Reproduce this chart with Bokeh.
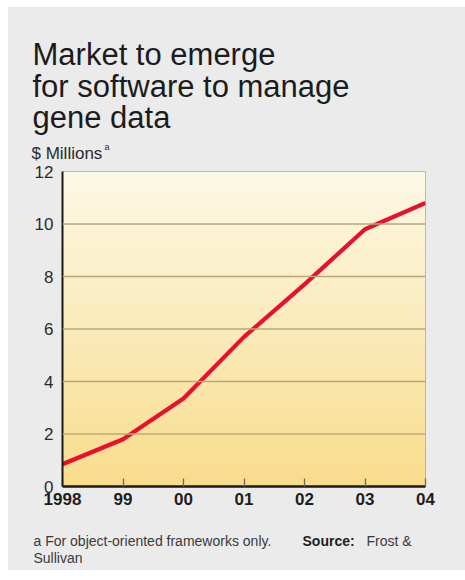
import numpy as np
from bokeh.plotting import figure
from bokeh.layouts import column
from bokeh.models import Range1d, FixedTicker, Label, Span
from bokeh.embed import file_html
from bokeh.resources import INLINE

# Market size, $ millions, for object-oriented frameworks
years = [1998, 1999, 2000, 2001, 2002, 2003, 2004]
market = [0.85, 1.8, 3.35, 5.7, 7.7, 9.8, 10.8]
year_labels = {1998: "1998", 1999: "99", 2000: "00", 2001: "01",
               2002: "02", 2003: "03", 2004: "04"}
y_ticks = [0, 2, 4, 6, 8, 10, 12]

headline = ["Market to emerge", "for software to manage", "gene data"]
unit_label = "$ Millions"
footnote = ["a For object-oriented frameworks only.", "Source:", "Frost &", "Sullivan"]

FONT = "Liberation Sans"
PANEL = "#ebebeb"
W = 457


def text_panel(height):
    # a plain strip whose frame fills the whole canvas, used for free text
    f = figure(width=W, height=height, output_backend="svg", toolbar_location=None,
               x_axis_location=None, y_axis_location=None,
               x_range=Range1d(0, W), y_range=Range1d(0, height),
               min_border=0, min_border_left=0, min_border_right=0,
               min_border_top=0, min_border_bottom=0, frame_align=False,
               background_fill_color=PANEL, border_fill_color=PANEL,
               outline_line_color=None)
    f.grid.visible = False
    return f


def note(f, x, y, text, size, color="#2a2a2a", style="normal"):
    f.add_layout(Label(x=x, y=y, x_units="screen", y_units="screen", text=text,
                       text_font=FONT, text_font_size=size, text_font_style=style,
                       text_color=color, text_baseline="alphabetic"))


# ---- header: headline and unit label
head = text_panel(154)
for i, line in enumerate(headline):
    note(head, 24, 107 - i * 31.5, line, "31px", color="#1c1c1c")
note(head, 23, 8, unit_label, "17px")
note(head, 96, 15, "a", "9px")

# ---- chart
p = figure(width=W, height=355, output_backend="svg", toolbar_location=None,
           x_range=Range1d(1998, 2004), y_range=Range1d(0, 12),
           min_border_left=54, min_border_right=40,
           min_border_top=10, min_border_bottom=30, frame_align=False,
           background_fill_color="#fbecb8", border_fill_color=PANEL,
           outline_line_color="#a8a8a0", outline_line_width=1)

# vertical cream-to-yellow wash behind the data
n = 200
top = np.array([253, 249, 232])
bot = np.array([249, 221, 140])
t = np.linspace(0, 1, n)[:, None]
cols = (bot * (1 - t) + top * t).astype(np.uint32)
img = np.empty((n, 1), dtype=np.uint32)
view = img.view(dtype=np.uint8).reshape((n, 1, 4))
view[:, 0, 0] = cols[:, 0]
view[:, 0, 1] = cols[:, 1]
view[:, 0, 2] = cols[:, 2]
view[:, 0, 3] = 255
p.image_rgba(image=[img], x=1998, y=0, dw=6, dh=12)

# horizontal rules
for yv in y_ticks[1:-1]:
    p.add_layout(Span(location=yv, dimension="width", line_color="#b5a87e",
                      line_width=1.6))

p.xgrid.visible = False
p.ygrid.visible = False

p.line(years, market, line_color="#e8102c", line_width=4.2, line_join="round")

p.yaxis.ticker = FixedTicker(ticks=y_ticks)
p.yaxis.major_tick_out = 0
p.yaxis.major_tick_in = 0
p.yaxis.minor_tick_line_color = None
p.yaxis.axis_line_color = "#1a1a1a"
p.yaxis.axis_line_width = 2
p.yaxis.major_label_standoff = 9
p.yaxis.major_label_text_font = FONT
p.yaxis.major_label_text_font_size = "17px"
p.yaxis.major_label_text_color = "#2a2a2a"

p.xaxis.ticker = FixedTicker(ticks=years)
p.xaxis.major_label_overrides = year_labels
p.xaxis.major_tick_out = 0
p.xaxis.major_tick_in = 8
p.xaxis.major_tick_line_color = "#6e6a5a"
p.xaxis.major_tick_line_width = 1.3
p.xaxis.minor_tick_line_color = None
p.xaxis.axis_line_color = "#1a1a1a"
p.xaxis.axis_line_width = 2.5
p.xaxis.major_label_standoff = 6
p.xaxis.major_label_text_font = FONT
p.xaxis.major_label_text_font_style = "bold"
p.xaxis.major_label_text_font_size = "17px"
p.xaxis.major_label_text_color = "#1e1e1e"

# ---- footer: footnote and source
foot = text_panel(54)
note(foot, 25, 30, footnote[0], "14px", color="#3a3a3a")
note(foot, 294, 30, footnote[1], "14px", color="#1e1e1e", style="bold")
note(foot, 358, 30, footnote[2], "14px", color="#3a3a3a")
note(foot, 25, 13, footnote[3], "14px", color="#3a3a3a")

page = column(head, p, foot, spacing=0, margin=(7, 0, 10, 8),
              styles={"background-color": PANEL})

open("out.html", "w").write(file_html(page, INLINE))
